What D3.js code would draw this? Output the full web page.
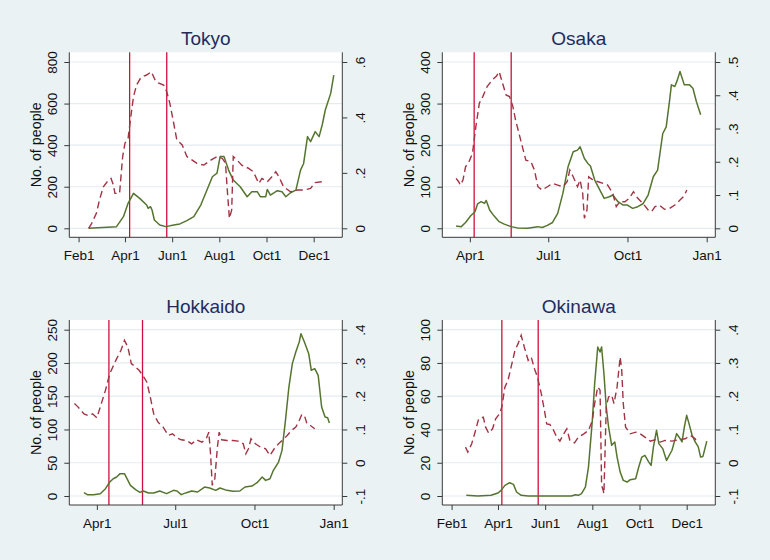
<!DOCTYPE html>
<html><head><meta charset="utf-8">
<script src="https://cdn.jsdelivr.net/npm/d3@7"></script>
<style>html,body{margin:0;padding:0;background:#eaf2f3;}svg{display:block;}</style>
</head><body><svg id="c" width="770" height="560"></svg>
<script>
// ---------- DATA (year 2020 unless noted) ----------
const titles = ["Tokyo", "Osaka", "Hokkaido", "Okinawa"];

// Tokyo: solid = No. of people (left axis), dashed = right axis
const tokyoPeople = [["02-14",0],["03-21",8],["03-30",56],["04-05",120],["04-12",168],["04-20",144],["04-29",112],["05-01",96],["05-04",104],["05-06",88],["05-09",40],["05-16",16],["05-24",8],["06-03",16],["06-11",21],["06-20",37],["06-29",56],["07-08",112],["07-16",184],["07-23",248],["07-29",265],["08-02",345],["08-07",345],["08-13",280],["08-19",232],["08-28",200],["09-06",152],["09-12",176],["09-19",176],["09-23",152],["09-30",152],["10-02",187],["10-06",160],["10-15",181],["10-21",176],["10-26",152],["11-01",171],["11-08",184],["11-14",280],["11-18",312],["11-23",441],["11-27",417],["12-03",465],["12-08",441],["12-12",497],["12-16",569],["12-23",649],["12-27",737]];
const tokyoRatio = [["02-14",0],["02-18",0.018],["02-24",0.054],["02-28",0.102],["03-04",0.150],["03-09",0.168],["03-14",0.180],["03-17",0.156],["03-19",0.126],["03-25",0.126],["03-29",0.259],["04-01",0.307],["04-05",0.325],["04-08",0.391],["04-12",0.475],["04-16",0.517],["04-21",0.541],["04-25",0.549],["04-29",0.553],["05-05",0.565],["05-10",0.535],["05-14",0.525],["05-21",0.517],["05-25",0.493],["05-29",0.451],["06-03",0.379],["06-07",0.319],["06-14",0.301],["06-20",0.259],["06-27",0.246],["07-03",0.234],["07-12",0.228],["07-21",0.246],["07-29",0.259],["08-05",0.252],["08-09",0.234],["08-11",0.150],["08-14",0.036],["08-17",0.066],["08-19",0.259],["08-24",0.246],["08-30",0.228],["09-08",0.216],["09-14",0.204],["09-21",0.162],["09-25",0.180],["10-02",0.168],["10-08",0.186],["10-13",0.204],["10-17",0.186],["10-23",0.150],["11-01",0.132],["11-10",0.138],["11-18",0.138],["11-27",0.144],["12-03",0.165],["12-12",0.168]];

const osakaPeople = [["03-16",5.6],["03-22",4],["03-27",14],["04-02",30],["04-07",40],["04-10",59],["04-14",64],["04-18",60],["04-20",67],["04-24",44],["04-29",30],["05-05",16],["05-11",10],["05-19",4],["05-26",1],["06-07",0],["06-19",4],["06-24",2],["06-30",7],["07-06",14],["07-12",36],["07-18",84],["07-24",148],["07-30",184],["08-04",188],["08-07",196],["08-12",168],["08-16",156],["08-19",150],["08-24",116],["08-30",92],["09-04",72],["09-10",76],["09-14",80],["09-20",64],["09-26",56],["10-01",56],["10-07",48],["10-13",52],["10-19",59],["10-25",80],["10-31",124],["11-05",140],["11-11",228],["11-15",244],["11-19",309],["11-21",345],["11-25",341],["11-28",357],["12-01",377],["12-06",345],["12-12",345],["12-16",337],["12-20",305],["12-25",273]];
const osakaRatio = [["03-16",0.150],["03-19",0.140],["03-21",0.130],["03-24",0.145],["03-27",0.185],["03-31",0.200],["04-04",0.225],["04-08",0.306],["04-12",0.376],["04-16",0.396],["04-21",0.426],["04-27",0.446],["05-02",0.458],["05-05",0.471],["05-09",0.436],["05-13",0.401],["05-17",0.396],["05-21",0.366],["05-24",0.326],["05-28",0.286],["06-01",0.245],["06-05",0.205],["06-11",0.200],["06-15",0.175],["06-19",0.125],["06-24",0.115],["06-30",0.125],["07-06",0.135],["07-12",0.130],["07-18",0.125],["07-23",0.140],["07-26",0.175],["07-30",0.155],["08-04",0.125],["08-07",0.145],["08-10",0.105],["08-12",0.030],["08-15",0.055],["08-17",0.155],["08-22",0.145],["08-28",0.140],["09-03",0.135],["09-08",0.130],["09-14",0.105],["09-18",0.065],["09-22",0.080],["09-28",0.080],["10-03",0.090],["10-08",0.110],["10-13",0.090],["10-19",0.075],["10-25",0.055],["10-29",0.050],["11-02",0.065],["11-07",0.070],["11-13",0.057],["11-19",0.060],["11-25",0.070],["12-01",0.085],["12-05",0.095],["12-09",0.115]];

const hokkaidoPeople = [["03-17",5],["03-21",2],["03-28",2],["04-05",3.5],["04-11",11],["04-16",21],["04-20",26],["04-24",28.6],["04-28",33.6],["05-03",33.6],["05-06",26],["05-10",16],["05-16",9.5],["05-21",5.5],["05-25",7.5],["05-31",4.5],["06-06",4.5],["06-13",7.5],["06-21",3.5],["06-29",8.5],["07-03",7.5],["07-08",2],["07-14",5],["07-20",7.5],["07-27",6],["08-04",13.5],["08-10",12],["08-17",8.5],["08-22",12],["08-30",8.5],["09-06",7],["09-14",7.5],["09-20",13.5],["09-28",15],["10-04",20],["10-10",28.6],["10-14",23.5],["10-19",26],["10-23",38.6],["10-29",51],["11-02",68.6],["11-06",113.7],["11-10",163.8],["11-14",199],["11-18",216.4],["11-22",231.5],["11-24",244],["11-28",231.5],["12-03",214],["12-06",189],["12-10",191.4],["12-14",181.4],["12-18",133.8],["12-22",118.7],["12-25",117.7],["12-27",109.7]];
const hokkaidoRatio = [["03-06",0.178],["03-10",0.168],["03-17",0.147],["03-22",0.142],["03-27",0.147],["04-01",0.135],["04-05",0.168],["04-11",0.218],["04-16",0.268],["04-24",0.313],["04-29",0.338],["05-03",0.368],["05-07",0.348],["05-11",0.298],["05-15",0.290],["05-20",0.278],["05-25",0.260],["05-29",0.243],["06-02",0.198],["06-06",0.147],["06-11",0.122],["06-17",0.107],["06-23",0.082],["06-28",0.087],["07-03",0.075],["07-08",0.069],["07-14",0.067],["07-20",0.057],["07-26",0.069],["08-01",0.062],["08-06",0.072],["08-09",0.092],["08-11",0.027],["08-13",-0.068],["08-16",-0.048],["08-19",0.047],["08-21",0.092],["08-24",0.069],["08-30",0.067],["09-06",0.067],["09-12",0.065],["09-18",0.057],["09-21",0.027],["09-24",0.042],["09-27",0.072],["10-02",0.057],["10-08",0.047],["10-14",0.042],["10-19",0.022],["10-24",0.042],["10-29",0.057],["11-03",0.069],["11-08",0.082],["11-13",0.097],["11-18",0.107],["11-22",0.127],["11-25",0.145],["11-28",0.142],["12-01",0.117],["12-05",0.112],["12-10",0.102]];

const okinawaPeople = [["02-20",0.4],["03-06",0],["03-23",0.4],["04-01",1.8],["04-05",3.4],["04-10",6.4],["04-16",8],["04-21",7],["04-25",2.4],["05-01",0.4],["05-10",0],["07-05",0],["07-10",0.8],["07-14",0.4],["07-18",1.4],["07-23",5.4],["07-27",17.4],["08-01",45.5],["08-04",67.5],["08-08",89.6],["08-11",86.6],["08-13",89.6],["08-16",73.5],["08-19",53.5],["08-22",41.5],["08-26",30.5],["08-30",32.5],["09-02",23.4],["09-06",14.4],["09-10",9.4],["09-15",8.4],["09-19",9.8],["09-26",10.4],["09-30",17.4],["10-04",23.4],["10-08",24.4],["10-13",20.4],["10-16",18.4],["10-19",29.5],["10-23",39.5],["10-26",31.5],["10-31",28.5],["11-05",21.4],["11-12",27.5],["11-18",37.5],["11-21",35.5],["11-25",32.5],["11-28",41.5],["12-01",48.5],["12-04",43.5],["12-08",36.5],["12-12",32.5],["12-16",29.5],["12-19",23.4],["12-22",23.8],["12-27",33]];
const okinawaRatio = [["02-19",0.047],["02-22",0.032],["02-27",0.057],["03-03",0.097],["03-07",0.132],["03-13",0.137],["03-16",0.107],["03-20",0.089],["03-25",0.102],["03-29",0.132],["04-03",0.147],["04-06",0.168],["04-10",0.228],["04-14",0.248],["04-18",0.288],["04-23",0.338],["04-27",0.358],["05-01",0.383],["05-05",0.348],["05-10",0.308],["05-14",0.318],["05-18",0.283],["05-22",0.258],["05-27",0.208],["05-31",0.158],["06-03",0.117],["06-07",0.115],["06-11",0.102],["06-16",0.077],["06-20",0.065],["06-25",0.087],["06-29",0.102],["07-03",0.067],["07-09",0.060],["07-14",0.077],["07-21",0.087],["07-27",0.097],["08-01",0.127],["08-04",0.178],["08-08",0.228],["08-11",0.218],["08-13",-0.068],["08-15",-0.083],["08-16",-0.093],["08-19",0.168],["08-22",0.198],["08-26",0.203],["08-29",0.178],["09-02",0.228],["09-06",0.318],["09-08",0.278],["09-10",0.178],["09-13",0.107],["09-19",0.087],["09-26",0.092],["10-02",0.087],["10-08",0.077],["10-15",0.065],["10-21",0.069],["10-28",0.062],["11-03",0.067],["11-12",0.065],["11-20",0.069],["11-29",0.072],["12-06",0.082],["12-12",0.072],["12-14",0.062]];

// vertical reference lines (state of emergency start / end)
const tokyoLines = ["04-07","05-25"];
const osakaLines = ["04-06","05-19"];
const hokkaidoLines = ["04-15","05-24"];
const okinawaLines = ["04-06","05-23"];

// axis ticks
const leftTicks = [[0,200,400,600,800],[0,100,200,300,400],[0,50,100,150,200,250],[0,20,40,60,80,100]];
const rightTicks = [[0,0.2,0.4,0.6],[0,0.1,0.2,0.3,0.4,0.5],[-0.1,0,0.1,0.2,0.3,0.4],[-0.1,0,0.1,0.2,0.3,0.4]];
const xTicksA = ["2020-02-01","2020-04-01","2020-06-01","2020-08-01","2020-10-01","2020-12-01"];
const xLabelsA = ["Feb1","Apr1","Jun1","Aug1","Oct1","Dec1"];
const xTicksB = ["2020-04-01","2020-07-01","2020-10-01","2021-01-01"];
const xLabelsB = ["Apr1","Jul1","Oct1","Jan1"];
const yTitle = "No. of people";

// ---------- LAYOUT ----------
const parse = d3.utcParse("%Y-%m-%d");
const d20 = s => parse("2020-" + s);
const P = {left:69.3, right:342.3, top:52.3, bottom:237.3, yTop:62, yZero:228.3};
const FONT = "'Liberation Sans', Arial, Helvetica, sans-serif";
const panels = [
  {title:titles[0], ox:0,   oy:0,     people:tokyoPeople,    ratio:tokyoRatio,    lines:tokyoLines,    lt:leftTicks[0], rt:rightTicks[0], xt:xTicksA, xl:xLabelsA, xd:["2020-01-20","2021-01-07"]},
  {title:titles[1], ox:373, oy:0,     people:osakaPeople,    ratio:osakaRatio,    lines:osakaLines,    lt:leftTicks[1], rt:rightTicks[1], xt:xTicksB, xl:xLabelsB, xd:["2020-02-29","2021-01-11"]},
  {title:titles[2], ox:0,   oy:267.7, people:hokkaidoPeople, ratio:hokkaidoRatio, lines:hokkaidoLines, lt:leftTicks[2], rt:rightTicks[2], xt:xTicksB, xl:xLabelsB, xd:["2020-02-29","2021-01-11"]},
  {title:titles[3], ox:373, oy:267.7, people:okinawaPeople,  ratio:okinawaRatio,  lines:okinawaLines,  lt:leftTicks[3], rt:rightTicks[3], xt:xTicksA, xl:xLabelsA, xd:["2020-01-20","2021-01-07"]}
];

const svg = d3.select("#c");
svg.append("rect").attr("width",770).attr("height",560).attr("fill","#eaf2f3");
const fmtR = v => v === 0 ? "0" : (v < 0 ? "-" : "") + d3.format(".1f")(Math.abs(v)).replace(/^0\./, ".");

panels.forEach(p => {
  const g = svg.append("g").attr("transform", `translate(${p.ox},${p.oy})`);
  const x = d3.scaleUtc().domain(p.xd.map(parse)).range([P.left, P.right]);
  const yL = d3.scaleLinear().domain([0, d3.max(p.lt)]).range([P.yZero, P.yTop]);
  const yR = d3.scaleLinear().domain(d3.extent(p.rt)).range([P.yZero, P.yTop]);

  g.append("rect").attr("x",P.left).attr("y",P.top).attr("width",P.right-P.left).attr("height",P.bottom-P.top).attr("fill","#ffffff");

  // gridlines
  g.selectAll(".grid").data(p.lt).enter().append("line")
    .attr("x1",P.left).attr("x2",P.right).attr("y1",d=>yL(d)).attr("y2",d=>yL(d))
    .attr("stroke","#e4ecef").attr("stroke-width",1.2);

  // reference lines
  g.selectAll(".vl").data(p.lines).enter().append("line")
    .attr("x1",d=>x(d20(d))).attr("x2",d=>x(d20(d))).attr("y1",P.top).attr("y2",P.bottom)
    .attr("stroke","#d0103a").attr("stroke-width",1.3);

  const lineL = d3.line().x(d=>x(d20(d[0]))).y(d=>yL(d[1]));
  const lineR = d3.line().x(d=>x(d20(d[0]))).y(d=>yR(d[1]));
  g.append("path").attr("d",lineL(p.people)).attr("fill","none").attr("stroke","#55752f").attr("stroke-width",1.5).attr("stroke-linejoin","round");
  g.append("path").attr("d",lineR(p.ratio)).attr("fill","none").attr("stroke","#a03444").attr("stroke-width",1.4).attr("stroke-dasharray","7,4");

  // axis lines
  const ac = "#3a3a3a";
  g.append("line").attr("x1",P.left).attr("x2",P.left).attr("y1",P.top).attr("y2",P.bottom).attr("stroke",ac);
  g.append("line").attr("x1",P.right).attr("x2",P.right).attr("y1",P.top).attr("y2",P.bottom).attr("stroke",ac);
  g.append("line").attr("x1",P.left).attr("x2",P.right).attr("y1",P.bottom).attr("y2",P.bottom).attr("stroke",ac);

  // left axis
  const al = g.append("g").attr("transform",`translate(${P.left},0)`)
    .call(d3.axisLeft(yL).tickValues(p.lt).tickSize(5).tickSizeOuter(0).tickFormat(d3.format("d")));
  al.select(".domain").remove();
  al.selectAll("line").attr("stroke",ac);
  al.selectAll("text").attr("transform","rotate(-90)").attr("x",0).attr("y",-12.6).attr("dy",0)
    .attr("text-anchor","middle").style("font-family",FONT).style("font-size","13.5px").attr("fill","#111");

  // right axis
  const ar = g.append("g").attr("transform",`translate(${P.right},0)`)
    .call(d3.axisRight(yR).tickValues(p.rt).tickSize(5).tickSizeOuter(0).tickFormat(fmtR));
  ar.select(".domain").remove();
  ar.selectAll("line").attr("stroke",ac);
  ar.selectAll("text").attr("transform","rotate(-90)").attr("x",0).attr("y",22.7).attr("dy",0)
    .attr("text-anchor","middle").style("font-family",FONT).style("font-size","13.5px").attr("fill","#111");

  // bottom axis
  const ab = g.append("g").attr("transform",`translate(0,${P.bottom})`)
    .call(d3.axisBottom(x).tickValues(p.xt.map(parse)).tickSize(5).tickSizeOuter(0).tickFormat((d,i)=>p.xl[i]));
  ab.select(".domain").remove();
  ab.selectAll("line").attr("stroke",ac);
  ab.selectAll("text").attr("y",22.7).attr("dy",0).style("font-family",FONT).style("font-size","13.5px").attr("fill","#111");

  // y title
  g.append("text").attr("transform",`translate(40.5,${(P.top+P.bottom)/2}) rotate(-90)`)
    .attr("text-anchor","middle").style("font-family",FONT).style("font-size","14.3px").attr("fill","#111").text(yTitle);

  // panel title
  g.append("text").attr("x",(P.left+P.right)/2).attr("y",45).attr("text-anchor","middle")
    .style("font-family",FONT).style("font-size","19px").attr("fill","#1e2d5e").text(p.title);
});
</script></body></html>
